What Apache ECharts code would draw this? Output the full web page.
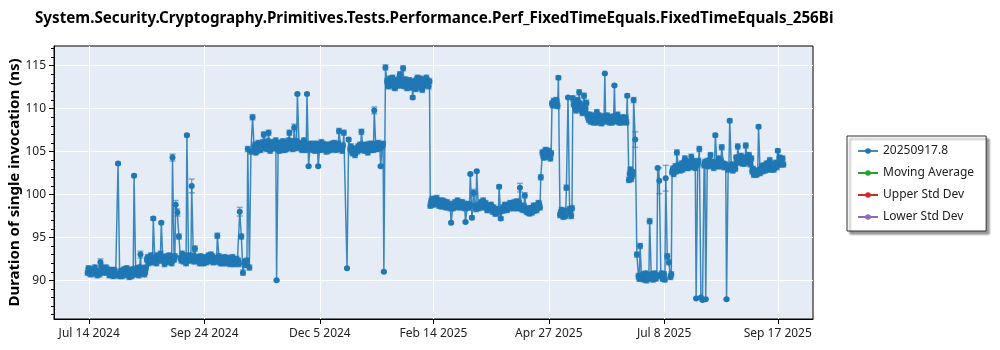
<!DOCTYPE html>
<html><head><meta charset="utf-8">
<script src="https://cdn.jsdelivr.net/npm/echarts@6/dist/echarts.min.js"></script>
<style>html,body{margin:0;padding:0;background:#fff}#c{width:1000px;height:350px}</style>
</head><body><div id="c"></div>
<script>
const chartTitle = 'System.Security.Cryptography.Primitives.Tests.Performance.Perf_FixedTimeEquals.FixedTimeEquals_256Bi';
const yAxisTitle = 'Duration of single invocation (ns)';
const legendNames = ['20250917.8', 'Moving Average', 'Upper Std Dev', 'Lower Std Dev'];
const xTickDates = ['2024-07-14', '2024-09-24', '2024-12-05', '2025-02-14', '2025-04-27', '2025-07-08', '2025-09-17'];
const yTickValues = [90, 95, 100, 105, 110, 115];
const yMinorTickValues = [86, 87, 88, 89, 91, 92, 93, 94, 96, 97, 98, 99, 101, 102, 103, 104, 106, 107, 108, 109, 111, 112, 113, 114, 116, 117];
const xRange = ['2024-06-22', '2025-10-09'];
const yRange = [85.5, 117.3];
const typicalError = 0.3;

// [date, duration (ns), optional error half-width]
const runsJulAug2024 = [
 ['2024-07-13',90.9],['2024-07-14',91.2],['2024-07-15',90.7],['2024-07-16',91.1],['2024-07-18',90.8],
 ['2024-07-19',90.6],['2024-07-20',91.0],['2024-07-21',92.1,0.4],['2024-07-22',91.4],['2024-07-24',91.0],
 ['2024-07-25',91.3],['2024-07-27',90.8],['2024-07-28',91.2],['2024-07-29',90.5],['2024-07-30',91.0],
 ['2024-07-31',90.7],['2024-08-01',103.6,0.15],['2024-08-02',90.5],['2024-08-03',91.1],['2024-08-04',90.6],
 ['2024-08-05',91.3],['2024-08-06',90.8],['2024-08-07',91.0],['2024-08-08',90.4],['2024-08-09',91.2],
 ['2024-08-10',90.7],['2024-08-11',102.2,0.15],['2024-08-12',91.0],['2024-08-13',91.4],['2024-08-14',90.6],
 ['2024-08-15',93.0,0.4],['2024-08-16',90.8],['2024-08-17',91.3],['2024-08-18',91.0]
];
const extraRunsJulAug2024 = [
 ['2024-07-13T12:00',91.4],['2024-07-14T12:00',90.8],['2024-07-15T12:00',91.3],['2024-07-17T00:00',90.9],['2024-07-17T12:00',91.5],
 ['2024-07-19T12:00',91.1],['2024-07-20T12:00',90.7],['2024-07-21T12:00',91.6],['2024-07-23T00:00',91.1],['2024-07-23T12:00',90.9],
 ['2024-07-24T12:00',91.5],['2024-07-26T00:00',91.2],['2024-07-26T12:00',90.6],['2024-07-28T12:00',90.9],['2024-07-29T12:00',91.2],
 ['2024-07-30T12:00',90.6],['2024-08-02T12:00',91.0],['2024-08-03T12:00',90.5],['2024-08-04T12:00',91.2],['2024-08-05T12:00',90.7],
 ['2024-08-06T12:00',91.4],['2024-08-07T12:00',90.6],['2024-08-08T12:00',91.0],['2024-08-09T12:00',90.5],['2024-08-10T12:00',91.3],
 ['2024-08-12T12:00',90.7],['2024-08-13T12:00',90.9],['2024-08-14T12:00',91.5],['2024-08-15T12:00',91.1],['2024-08-16T12:00',91.4],
 ['2024-08-17T12:00',90.7],['2024-08-18T12:00',91.5]
];
const runsAugOct2024 = [
 ['2024-08-19',92.4],['2024-08-20',92.0],['2024-08-22',92.6],['2024-08-23',97.2,0.2],['2024-08-24',92.2],
 ['2024-08-26',92.8],['2024-08-28',96.7,0.15],['2024-08-29',92.3],['2024-08-30',91.9],['2024-09-01',92.5],
 ['2024-09-02',92.9],['2024-09-04',104.3,0.4],['2024-09-05',92.4],['2024-09-06',98.8,0.5],['2024-09-07',97.9,0.4],
 ['2024-09-08',95.1,0.3],['2024-09-09',92.6],['2024-09-10',93.1],['2024-09-11',92.2],['2024-09-13',106.9,0.15],
 ['2024-09-14',92.5],['2024-09-16',101.0,0.8],['2024-09-17',92.8],['2024-09-18',93.7,0.3],['2024-09-19',92.4],
 ['2024-09-21',92.0],['2024-09-22',92.6],['2024-09-24',92.3],['2024-09-25',92.1],['2024-09-27',92.7],
 ['2024-09-28',93.0],['2024-09-30',92.2],['2024-10-01',92.5],['2024-10-02',95.2,0.3],['2024-10-03',92.8],
 ['2024-10-04',92.0],['2024-10-06',92.4],['2024-10-07',92.1],['2024-10-09',92.6],['2024-10-10',91.9],
 ['2024-10-12',92.3],['2024-10-13',92.0],['2024-10-14',92.5],['2024-10-16',98.0,0.5],['2024-10-17',95.1,0.3],
 ['2024-10-18',90.9,0.3],['2024-10-19',92.2],['2024-10-20',91.8],['2024-10-21',105.3],['2024-10-22',91.5]
];
const extraRunsAugOct2024 = [
 ['2024-08-19T12:00',92.7],['2024-08-21T00:00',92.3],['2024-08-21T12:00',92.9],['2024-08-22T12:00',92.1],['2024-08-24T12:00',92.6],
 ['2024-08-25T00:00',92.0],['2024-08-25T12:00',92.9],['2024-08-26T12:00',92.3],['2024-08-27T00:00',92.5],['2024-08-27T12:00',93.1],
 ['2024-08-29T12:00',92.7],['2024-08-30T12:00',92.4],['2024-08-31T00:00',92.1],['2024-08-31T12:00',92.8],['2024-09-01T12:00',92.2],
 ['2024-09-02T12:00',92.4],['2024-09-03T00:00',92.7],['2024-09-03T12:00',92.0],['2024-09-05T12:00',92.8],['2024-09-09T12:00',92.3],
 ['2024-09-10T12:00',92.5],['2024-09-11T12:00',92.9],['2024-09-12T00:00',92.4],['2024-09-12T12:00',92.0],['2024-09-14T12:00',92.9],
 ['2024-09-15T00:00',92.3],['2024-09-15T12:00',92.6],['2024-09-17T12:00',92.2],['2024-09-19T12:00',92.7],['2024-09-20T00:00',92.3],
 ['2024-09-20T12:00',92.5],['2024-09-21T12:00',92.8],['2024-09-22T12:00',92.2],['2024-09-23T00:00',92.6],['2024-09-23T12:00',92.0],
 ['2024-09-24T12:00',92.7],['2024-09-25T12:00',92.5],['2024-09-26T00:00',92.2],['2024-09-26T12:00',92.9],['2024-09-27T12:00',92.3],
 ['2024-09-28T12:00',92.5],['2024-09-29T00:00',92.8],['2024-09-29T12:00',92.1],['2024-09-30T12:00',92.6],['2024-10-01T12:00',92.2],
 ['2024-10-03T12:00',92.4],['2024-10-04T12:00',92.6],['2024-10-05T00:00',92.3],['2024-10-05T12:00',92.0],['2024-10-06T12:00',92.7],
 ['2024-10-07T12:00',92.4],['2024-10-08T00:00',92.0],['2024-10-08T12:00',92.6],['2024-10-09T12:00',92.2],['2024-10-10T12:00',92.4],
 ['2024-10-11T00:00',92.1],['2024-10-11T12:00',92.7],['2024-10-12T12:00',91.9],['2024-10-13T12:00',92.4],['2024-10-14T12:00',92.1],
 ['2024-10-15T00:00',92.3],['2024-10-15T12:00',91.9],['2024-10-19T12:00',91.9],['2024-10-20T12:00',92.3]
];
const runsOct2024Jan2025 = [
 ['2024-10-23',105.0],['2024-10-24',109.0,0.3],['2024-10-25',105.4],['2024-10-26',104.9],['2024-10-28',105.8],
 ['2024-10-29',105.2],['2024-10-31',107.0,0.3],['2024-11-01',105.5],['2024-11-03',107.2,0.3],['2024-11-04',105.1],
 ['2024-11-06',106.0],['2024-11-07',105.4],['2024-11-08',90.0,0.1],['2024-11-09',105.6],['2024-11-11',105.2],
 ['2024-11-12',106.2],['2024-11-14',105.3],['2024-11-16',107.2,0.3],['2024-11-17',105.8],['2024-11-19',107.8,0.4],
 ['2024-11-20',105.4],['2024-11-21',111.7,0.1],['2024-11-22',106.0],['2024-11-24',105.2],['2024-11-25',106.3],
 ['2024-11-27',111.7,0.1],['2024-11-28',103.3,0.1],['2024-11-29',105.9],['2024-12-01',105.5],['2024-12-02',105.1],
 ['2024-12-04',103.3,0.1],['2024-12-05',105.6],['2024-12-06',106.1],['2024-12-08',105.3],['2024-12-09',105.0],
 ['2024-12-11',105.7],['2024-12-12',105.4],['2024-12-14',106.0],['2024-12-15',105.2],['2024-12-17',107.4,0.3],
 ['2024-12-18',105.6],['2024-12-19',105.1],['2024-12-20',107.2,0.3],['2024-12-22',91.4,0.1],['2024-12-23',106.4,0.2],
 ['2024-12-25',105.0],['2024-12-27',104.6],['2024-12-28',105.4],['2024-12-30',105.8],['2024-12-31',107.3,0.3],
 ['2025-01-01',105.2],['2025-01-03',105.6],['2025-01-04',104.9],['2025-01-06',105.3],['2025-01-07',105.9],
 ['2025-01-08',109.8,0.4],['2025-01-09',105.4],['2025-01-11',105.8],['2025-01-12',103.3,0.1],['2025-01-13',105.6],
 ['2025-01-14',91.0,0.1]
];
const extraRunsOct2024Jan2025 = [
 ['2024-10-25T12:00',105.8],['2024-10-26T12:00',105.5],['2024-10-27T00:00',105.1],['2024-10-27T12:00',106.0],['2024-10-28T12:00',105.3],
 ['2024-10-29T12:00',105.9],['2024-10-30T00:00',105.4],['2024-10-30T12:00',106.1],['2024-11-01T12:00',105.9],['2024-11-02T00:00',105.3],
 ['2024-11-02T12:00',106.2],['2024-11-04T12:00',105.7],['2024-11-05T00:00',106.1],['2024-11-05T12:00',105.5],['2024-11-06T12:00',105.4],
 ['2024-11-07T12:00',106.3],['2024-11-09T12:00',105.1],['2024-11-10T00:00',106.0],['2024-11-10T12:00',105.6],['2024-11-11T12:00',106.1],
 ['2024-11-12T12:00',105.6],['2024-11-13T00:00',105.2],['2024-11-13T12:00',106.0],['2024-11-14T12:00',105.8],['2024-11-15T00:00',105.4],
 ['2024-11-15T12:00',106.3],['2024-11-16T12:00',105.5],['2024-11-17T12:00',106.2],['2024-11-18T00:00',105.3],['2024-11-18T12:00',105.9],
 ['2024-11-20T12:00',106.2],['2024-11-22T12:00',105.5],['2024-11-23T00:00',105.9],['2024-11-23T12:00',105.3],['2024-11-24T12:00',105.8],
 ['2024-11-25T12:00',105.5],['2024-11-26T00:00',105.9],['2024-11-26T12:00',105.2],['2024-11-29T12:00',105.4],['2024-11-30T00:00',105.8],
 ['2024-11-30T12:00',105.2],['2024-12-01T12:00',105.9],['2024-12-02T12:00',105.6],['2024-12-03T00:00',105.2],['2024-12-03T12:00',105.9],
 ['2024-12-05T12:00',105.2],['2024-12-06T12:00',105.5],['2024-12-07T00:00',105.9],['2024-12-07T12:00',105.3],['2024-12-08T12:00',105.8],
 ['2024-12-09T12:00',105.5],['2024-12-10T00:00',105.1],['2024-12-10T12:00',105.8],['2024-12-11T12:00',105.2],['2024-12-12T12:00',105.9],
 ['2024-12-13T00:00',105.3],['2024-12-13T12:00',105.7],['2024-12-14T12:00',105.4],['2024-12-15T12:00',105.8],['2024-12-16T00:00',105.3],
 ['2024-12-16T12:00',105.9],['2024-12-18T12:00',105.3],['2024-12-19T12:00',105.7],['2024-12-24T00:00',105.3],['2024-12-24T12:00',105.6],
 ['2024-12-25T12:00',104.8],['2024-12-26T00:00',105.2],['2024-12-26T12:00',104.9],['2024-12-27T12:00',105.3],['2024-12-28T12:00',105.0],
 ['2024-12-29T00:00',105.6],['2024-12-29T12:00',105.2],['2024-12-30T12:00',105.5],['2025-01-01T12:00',105.7],['2025-01-02T00:00',105.1],
 ['2025-01-02T12:00',105.8],['2025-01-03T12:00',105.2],['2025-01-04T12:00',105.5],['2025-01-05T00:00',105.9],['2025-01-05T12:00',105.2],
 ['2025-01-06T12:00',105.7],['2025-01-07T12:00',105.2],['2025-01-09T12:00',105.8],['2025-01-10T00:00',105.3],['2025-01-10T12:00',106.0],
 ['2025-01-11T12:00',105.4],['2025-01-13T12:00',105.9]
];
const runsJanFeb2025 = [
 ['2025-01-15',114.8,0.3],['2025-01-16',113.2],['2025-01-17',112.6],['2025-01-18',113.5],['2025-01-19',112.8],
 ['2025-01-20',113.1],['2025-01-21',112.4],['2025-01-22',113.3],['2025-01-23',112.9],['2025-01-24',114.0],
 ['2025-01-25',112.7],['2025-01-26',114.7,0.3],['2025-01-27',112.6],['2025-01-28',113.0],['2025-01-29',112.5],
 ['2025-01-30',113.3],['2025-01-31',112.5],['2025-02-01',111.3,0.2],['2025-02-02',113.2],['2025-02-03',112.3],
 ['2025-02-04',113.6],['2025-02-05',112.8],['2025-02-06',113.1],['2025-02-07',112.2],['2025-02-08',113.4],
 ['2025-02-09',112.9],['2025-02-10',113.3],['2025-02-11',112.6]
];
const extraRunsJanFeb2025 = [
 ['2025-01-16T12:00',112.7],['2025-01-17T12:00',113.4],['2025-01-18T12:00',112.9],['2025-01-19T12:00',113.6],['2025-01-20T12:00',112.5],
 ['2025-01-21T12:00',113.2],['2025-01-22T12:00',112.7],['2025-01-23T12:00',113.5],['2025-01-24T12:00',112.8],['2025-01-25T12:00',113.3],
 ['2025-01-26T12:00',112.9],['2025-01-27T12:00',113.4],['2025-01-28T12:00',112.4],['2025-01-29T12:00',113.1],['2025-01-30T12:00',112.6],
 ['2025-01-31T12:00',113.0],['2025-02-01T12:00',112.5],['2025-02-02T12:00',112.6],['2025-02-03T12:00',113.4],['2025-02-04T12:00',112.7],
 ['2025-02-05T12:00',113.5],['2025-02-06T12:00',112.4],['2025-02-07T12:00',113.2],['2025-02-08T12:00',112.7],['2025-02-09T12:00',113.6],
 ['2025-02-10T12:00',112.8],['2025-02-11T12:00',113.2]
];
const runsFebApr2025 = [
 ['2025-02-12',98.7],['2025-02-13',99.4],['2025-02-15',98.9],['2025-02-16',99.6],['2025-02-18',99.2],
 ['2025-02-19',98.6],['2025-02-21',99.0],['2025-02-22',98.5],['2025-02-24',98.8],['2025-02-25',96.7,0.1],
 ['2025-02-26',98.4],['2025-02-28',98.9],['2025-03-01',99.3],['2025-03-03',98.6],['2025-03-04',99.1],
 ['2025-03-06',96.8,0.1],['2025-03-07',98.5],['2025-03-09',102.4,0.1],['2025-03-10',97.3,0.2],['2025-03-11',100.2,0.4],
 ['2025-03-12',98.7],['2025-03-13',102.7,0.1],['2025-03-14',98.4],['2025-03-16',98.9],['2025-03-17',99.3],
 ['2025-03-19',98.6],['2025-03-20',98.2],['2025-03-22',98.8],['2025-03-23',98.0],['2025-03-25',97.8],
 ['2025-03-26',98.3],['2025-03-27',100.9,0.2],['2025-03-28',97.2,0.2],['2025-03-29',98.1],['2025-03-31',98.6],
 ['2025-04-01',98.2],['2025-04-03',99.0],['2025-04-04',98.5],['2025-04-06',98.8],['2025-04-07',99.2],
 ['2025-04-09',100.8,0.5],['2025-04-10',98.3],['2025-04-12',99.9,0.3],['2025-04-13',98.0],['2025-04-15',97.8],
 ['2025-04-16',98.4],['2025-04-18',98.1],['2025-04-19',98.7],['2025-04-21',98.9],['2025-04-22',102.0,0.3]
];
const extraRunsFebApr2025 = [
 ['2025-02-12T12:00',99.2],['2025-02-13T12:00',98.8],['2025-02-14T00:00',99.5],['2025-02-14T12:00',99.0],['2025-02-15T12:00',99.4],
 ['2025-02-16T12:00',98.9],['2025-02-17T00:00',99.3],['2025-02-17T12:00',98.7],['2025-02-18T12:00',98.9],['2025-02-19T12:00',99.3],
 ['2025-02-20T00:00',98.7],['2025-02-20T12:00',99.2],['2025-02-21T12:00',98.6],['2025-02-22T12:00',99.1],['2025-02-23T00:00',98.6],
 ['2025-02-23T12:00',98.9],['2025-02-24T12:00',98.4],['2025-02-26T12:00',98.9],['2025-02-27T00:00',98.5],['2025-02-27T12:00',99.1],
 ['2025-02-28T12:00',98.6],['2025-03-01T12:00',98.8],['2025-03-02T00:00',99.1],['2025-03-02T12:00',98.5],['2025-03-03T12:00',99.0],
 ['2025-03-04T12:00',98.6],['2025-03-05T00:00',98.9],['2025-03-05T12:00',98.4],['2025-03-07T12:00',98.9],['2025-03-08T00:00',98.5],
 ['2025-03-08T12:00',98.8],['2025-03-12T12:00',98.3],['2025-03-14T12:00',98.8],['2025-03-15T00:00',98.5],['2025-03-15T12:00',99.1],
 ['2025-03-16T12:00',98.6],['2025-03-17T12:00',98.9],['2025-03-18T00:00',98.5],['2025-03-18T12:00',99.0],['2025-03-19T12:00',98.2],
 ['2025-03-20T12:00',98.7],['2025-03-21T00:00',98.3],['2025-03-21T12:00',98.6],['2025-03-22T12:00',98.2],['2025-03-23T12:00',98.5],
 ['2025-03-24T00:00',98.1],['2025-03-24T12:00',97.8],['2025-03-25T12:00',98.2],['2025-03-26T12:00',97.9],['2025-03-29T12:00',98.5],
 ['2025-03-30T00:00',98.2],['2025-03-30T12:00',98.8],['2025-03-31T12:00',98.3],['2025-04-01T12:00',98.7],['2025-04-02T00:00',98.4],
 ['2025-04-02T12:00',98.9],['2025-04-03T12:00',98.6],['2025-04-04T12:00',98.9],['2025-04-05T00:00',98.4],['2025-04-05T12:00',99.1],
 ['2025-04-06T12:00',98.5],['2025-04-07T12:00',98.7],['2025-04-08T00:00',98.4],['2025-04-08T12:00',99.0],['2025-04-10T12:00',98.7],
 ['2025-04-11T00:00',98.2],['2025-04-11T12:00',98.6],['2025-04-13T12:00',98.3],['2025-04-14T00:00',97.9],['2025-04-14T12:00',98.4],
 ['2025-04-15T12:00',98.1],['2025-04-16T12:00',97.9],['2025-04-17T00:00',98.3],['2025-04-17T12:00',98.7],['2025-04-18T12:00',98.5],
 ['2025-04-19T12:00',98.2],['2025-04-20T00:00',98.6],['2025-04-20T12:00',99.0],['2025-04-21T12:00',98.5]
];
const runsAprJun2025 = [
 ['2025-04-23',104.9],['2025-04-24',104.3],['2025-04-25',105.2],['2025-04-26',104.6],['2025-04-27',105.0],
 ['2025-04-28',104.2],['2025-04-29',110.6],['2025-04-30',110.9],['2025-05-01',110.4],['2025-05-02',110.8],
 ['2025-05-03',113.6,0.2],['2025-05-04',97.6],['2025-05-05',98.2],['2025-05-06',97.4],['2025-05-07',98.0],
 ['2025-05-08',100.8,0.3],['2025-05-09',111.3,0.1],['2025-05-10',98.3],['2025-05-11',97.5],['2025-05-12',111.2],
 ['2025-05-13',110.8],['2025-05-14',109.8],['2025-05-15',111.0],['2025-05-16',111.9,0.3],['2025-05-17',110.3],
 ['2025-05-18',109.5],['2025-05-19',111.5],['2025-05-20',110.0],['2025-05-21',109.3],['2025-05-22',108.7],
 ['2025-05-23',108.5],['2025-05-24',109.2],['2025-05-25',108.4],['2025-05-26',108.9],['2025-05-27',109.6],
 ['2025-05-28',108.5],['2025-05-29',108.8],['2025-05-30',108.3],['2025-05-31',109.1],['2025-06-01',114.1,0.1],
 ['2025-06-02',108.6],['2025-06-03',109.0],['2025-06-04',108.4],['2025-06-05',108.9],['2025-06-06',108.5],
 ['2025-06-07',112.7,0.1],['2025-06-08',108.7],['2025-06-09',109.3],['2025-06-10',108.4],['2025-06-11',108.8],
 ['2025-06-12',108.6],['2025-06-13',108.5],['2025-06-14',108.9],['2025-06-15',111.5,0.2],['2025-06-16',101.7],
 ['2025-06-17',102.9],['2025-06-18',102.2],['2025-06-19',111.0,0.3],['2025-06-20',106.4,0.9]
];
const extraRunsAprJun2025 = [
 ['2025-04-23T12:00',104.5],['2025-04-24T12:00',105.0],['2025-04-25T12:00',104.4],['2025-04-26T12:00',105.1],['2025-04-27T12:00',104.5],
 ['2025-04-28T12:00',104.8],['2025-04-29T12:00',110.4],['2025-04-30T12:00',110.7],['2025-05-01T12:00',111.0],['2025-05-02T12:00',110.3],
 ['2025-05-04T12:00',97.9],['2025-05-05T12:00',97.6],['2025-05-06T12:00',98.1],['2025-05-07T12:00',97.5],['2025-05-10T12:00',97.9],
 ['2025-05-11T12:00',98.4],['2025-05-12T12:00',110.5],['2025-05-13T12:00',110.2],['2025-05-14T12:00',110.9],['2025-05-15T12:00',110.1],
 ['2025-05-16T12:00',110.6],['2025-05-17T12:00',109.8],['2025-05-18T12:00',110.4],['2025-05-19T12:00',109.9],['2025-05-20T12:00',110.7],
 ['2025-05-21T12:00',109.0],['2025-05-22T12:00',109.3],['2025-05-23T12:00',108.9],['2025-05-24T12:00',108.5],['2025-05-25T12:00',109.1],
 ['2025-05-26T12:00',108.4],['2025-05-27T12:00',108.8],['2025-05-28T12:00',109.2],['2025-05-29T12:00',108.4],['2025-05-30T12:00',109.0],
 ['2025-05-31T12:00',108.5],['2025-06-01T12:00',108.9],['2025-06-02T12:00',109.2],['2025-06-03T12:00',108.5],['2025-06-04T12:00',109.0],
 ['2025-06-05T12:00',108.4],['2025-06-06T12:00',109.1],['2025-06-07T12:00',108.6],['2025-06-08T12:00',109.1],['2025-06-09T12:00',108.5],
 ['2025-06-10T12:00',108.9],['2025-06-11T12:00',108.4],['2025-06-12T12:00',109.0],['2025-06-13T12:00',108.7],['2025-06-14T12:00',108.4],
 ['2025-06-16T12:00',102.4],['2025-06-17T12:00',101.8],['2025-06-18T12:00',102.6]
];
const runsJunJul2025 = [
 ['2025-06-21',93.0,0.3],['2025-06-22',90.5],['2025-06-23',94.0,0.3],['2025-06-24',90.2],['2025-06-25',90.7],
 ['2025-06-26',90.3],['2025-06-27',90.0],['2025-06-28',90.6],['2025-06-29',96.9,0.3],['2025-06-30',90.4],
 ['2025-07-01',90.1],['2025-07-02',90.8],['2025-07-03',90.3],['2025-07-04',103.1,0.1],['2025-07-05',101.6,1.5],
 ['2025-07-06',90.5],['2025-07-07',90.2],['2025-07-08',90.7],['2025-07-09',101.9,1.5],['2025-07-10',92.8,0.3],
 ['2025-07-11',92.1,0.3],['2025-07-12',90.4]
];
const extraRunsJunJul2025 = [
 ['2025-06-22T12:00',90.2],['2025-06-24T12:00',90.6],['2025-06-25T12:00',90.1],['2025-06-26T12:00',90.8],['2025-06-27T12:00',90.5],
 ['2025-06-28T12:00',90.2],['2025-06-30T12:00',90.7],['2025-07-01T12:00',90.4],['2025-07-02T12:00',90.2],['2025-07-03T12:00',90.6],
 ['2025-07-06T12:00',90.8],['2025-07-07T12:00',90.5],['2025-07-08T12:00',90.1],['2025-07-12T12:00',90.7]
];
const runsJulSep2025 = [
 ['2025-07-13',102.6],['2025-07-14',102.4],['2025-07-15',103.3],['2025-07-16',104.9,0.3],['2025-07-17',103.0],
 ['2025-07-18',102.8],['2025-07-19',103.6],['2025-07-20',103.2],['2025-07-21',104.2],['2025-07-22',103.4],
 ['2025-07-23',103.1],['2025-07-24',103.8],['2025-07-25',104.4],['2025-07-26',103.3],['2025-07-27',103.6],
 ['2025-07-28',87.9,0.1],['2025-07-29',103.5],['2025-07-30',105.3,0.3],['2025-07-31',88.0,0.1],['2025-08-01',87.7,0.1],
 ['2025-08-02',103.4],['2025-08-03',87.8,0.1],['2025-08-04',103.9],['2025-08-05',103.5],['2025-08-06',104.6],
 ['2025-08-07',103.4],['2025-08-08',103.1],['2025-08-09',106.9,0.2],['2025-08-10',103.7],['2025-08-11',104.2],
 ['2025-08-12',103.3],['2025-08-13',105.5,0.3],['2025-08-14',103.6],['2025-08-15',103.2],['2025-08-16',87.8,0.1],
 ['2025-08-17',102.9],['2025-08-18',108.6,0.2],['2025-08-19',103.1],['2025-08-20',102.8],['2025-08-21',103.4],
 ['2025-08-22',104.3],['2025-08-23',105.6,0.3],['2025-08-24',103.8],['2025-08-25',104.5],['2025-08-26',103.6],
 ['2025-08-27',104.1],['2025-08-28',105.7,0.3],['2025-08-29',103.9],['2025-08-30',104.6],['2025-08-31',103.5],
 ['2025-09-01',102.7],['2025-09-02',102.3],['2025-09-03',102.6],['2025-09-04',102.4],['2025-09-05',107.9,0.2],
 ['2025-09-06',102.5],['2025-09-07',103.3],['2025-09-08',103.0],['2025-09-09',102.8],['2025-09-10',103.6],
 ['2025-09-11',103.2],['2025-09-12',104.0],['2025-09-13',102.9],['2025-09-14',103.4],['2025-09-15',103.1],
 ['2025-09-16',103.7],['2025-09-17',105.1,0.2],['2025-09-18',104.3],['2025-09-19',103.6],['2025-09-20',104.2]
];
const extraRunsJulSep2025 = [
 ['2025-07-13T12:00',103.0],['2025-07-14T12:00',102.8],['2025-07-15T12:00',102.7],['2025-07-17T12:00',103.4],['2025-07-18T12:00',103.3],
 ['2025-07-19T12:00',102.9],['2025-07-20T12:00',103.7],['2025-07-21T12:00',103.1],['2025-07-22T12:00',103.8],['2025-07-23T12:00',103.5],
 ['2025-07-24T12:00',103.2],['2025-07-25T12:00',103.5],['2025-07-26T12:00',103.9],['2025-07-27T12:00',103.1],['2025-07-29T12:00',103.9],
 ['2025-08-02T12:00',103.8],['2025-08-04T12:00',103.3],['2025-08-05T12:00',104.0],['2025-08-06T12:00',103.5],['2025-08-07T12:00',103.8],
 ['2025-08-08T12:00',103.5],['2025-08-10T12:00',103.3],['2025-08-11T12:00',103.6],['2025-08-12T12:00',103.9],['2025-08-14T12:00',103.2],
 ['2025-08-15T12:00',103.5],['2025-08-17T12:00',103.3],['2025-08-19T12:00',103.5],['2025-08-20T12:00',103.2],['2025-08-21T12:00',103.0],
 ['2025-08-22T12:00',103.7],['2025-08-24T12:00',104.4],['2025-08-25T12:00',103.8],['2025-08-26T12:00',104.3],['2025-08-27T12:00',103.6],
 ['2025-08-29T12:00',104.4],['2025-08-30T12:00',103.8],['2025-08-31T12:00',104.2],['2025-09-01T12:00',103.0],['2025-09-02T12:00',102.6],
 ['2025-09-03T12:00',102.3],['2025-09-04T12:00',102.8],['2025-09-06T12:00',102.9],['2025-09-07T12:00',102.7],['2025-09-08T12:00',103.4],
 ['2025-09-09T12:00',103.2],['2025-09-10T12:00',102.9],['2025-09-11T12:00',103.5],['2025-09-12T12:00',103.1],['2025-09-13T12:00',103.5],
 ['2025-09-14T12:00',102.9],['2025-09-15T12:00',103.6],['2025-09-16T12:00',103.2],['2025-09-18T12:00',103.5],['2025-09-19T12:00',104.1],
 ['2025-09-20T12:00',103.5]
];
const movingAverage = [];
const upperStdDev = [];
const lowerStdDev = [];

const seriesColors = ['#1f77b4', '#2ca02c', '#d62728', '#9467bd'];
const monthNames = ['Jan','Feb','Mar','Apr','May','Jun','Jul','Aug','Sep','Oct','Nov','Dec'];
const FONT = '"Noto Sans", "Open Sans", sans-serif';

const ts = s => new Date(s.length === 10 ? s + 'T00:00:00Z' : s + ':00Z').getTime();
const allRuns = [].concat(
  runsJulAug2024, extraRunsJulAug2024, runsAugOct2024, extraRunsAugOct2024,
  runsOct2024Jan2025, extraRunsOct2024Jan2025, runsJanFeb2025, extraRunsJanFeb2025,
  runsFebApr2025, extraRunsFebApr2025, runsAprJun2025, extraRunsAprJun2025,
  runsJunJul2025, extraRunsJunJul2025, runsJulSep2025, extraRunsJulSep2025
).map(r => ({t: ts(r[0]), v: r[1], e: r.length > 2 ? r[2] : typicalError}))
 .sort((a, b) => a.t - b.t);
const lineData = allRuns.map(r => [r.t, r.v]);
const errData = allRuns.map(r => [r.t, r.v - r.e, r.v + r.e]);
const fmtDate = v => { const d = new Date(v); return monthNames[d.getUTCMonth()] + ' ' + d.getUTCDate() + ' ' + d.getUTCFullYear(); };

const chart = echarts.init(document.getElementById('c'), null, {renderer: 'canvas'});
chart.setOption({
  animation: false,
  backgroundColor: '#fff',
  title: {
    text: chartTitle, left: 35, top: 11, padding: 0,
    textStyle: {fontFamily: FONT, fontSize: 15.2, fontWeight: 'bold', color: '#000'}
  },
  legend: {
    orient: 'vertical', left: 847, top: 136,
    data: legendNames,
    backgroundColor: '#fff', borderColor: '#333', borderWidth: 1,
    padding: [8, 12, 7, 10], itemGap: 8, itemWidth: 20, itemHeight: 7,
    shadowColor: 'rgba(0,0,0,0.4)', shadowOffsetX: 3, shadowOffsetY: 3, shadowBlur: 2,
    textStyle: {fontFamily: FONT, fontSize: 12, color: '#222', lineHeight: 14}
  },
  grid: {left: 54, right: 187, top: 46, bottom: 31, show: true, backgroundColor: '#e5ecf6', borderColor: '#000', borderWidth: 1, containLabel: false, outerBoundsMode: 'none'},
  xAxis: {
    type: 'value', min: ts(xRange[0]), max: ts(xRange[1]),
    axisLine: {show: true, onZero: false, lineStyle: {color: '#000'}},
    axisTick: {show: true, length: 5, customValues: xTickDates.map(ts), lineStyle: {color: '#000'}},
    axisLabel: {customValues: xTickDates.map(ts), formatter: fmtDate, fontFamily: FONT, fontSize: 12, color: '#222', margin: 9},
    splitLine: {show: true, lineStyle: {color: '#fff', width: 1}}
  },
  yAxis: [{
    type: 'value', min: yRange[0], max: yRange[1],
    name: yAxisTitle, nameLocation: 'middle', nameGap: 32, nameMoveOverlap: false,
    nameTextStyle: {fontFamily: FONT, fontSize: 15, fontWeight: 'bold', color: '#000'},
    axisLine: {show: true, onZero: false, lineStyle: {color: '#000'}},
    axisTick: {show: true, length: 5, customValues: yTickValues, lineStyle: {color: '#000'}},
    axisLabel: {customValues: yTickValues, fontFamily: FONT, fontSize: 12, color: '#222', margin: 8},
    splitLine: {show: true, lineStyle: {color: '#fff', width: 1}}
  }, {
    type: 'value', min: yRange[0], max: yRange[1], position: 'left', offset: 0,
    axisLine: {show: false},
    axisTick: {show: true, length: 3, customValues: yMinorTickValues, lineStyle: {color: '#000'}},
    axisLabel: {show: false},
    splitLine: {show: false}
  }],
  series: [{
    type: 'custom', name: 'errorbars', silent: true, z: 1,
    renderItem: (params, api) => {
      const x = api.value(0);
      const p1 = api.coord([x, api.value(1)]);
      const p2 = api.coord([x, api.value(2)]);
      const w = 3;
      const st = {stroke: 'rgba(31,119,180,0.55)', lineWidth: 1.5};
      return {type: 'group', children: [
        {type: 'line', shape: {x1: p1[0], y1: p1[1], x2: p2[0], y2: p2[1]}, style: st},
        {type: 'line', shape: {x1: p1[0] - w, y1: p1[1], x2: p1[0] + w, y2: p1[1]}, style: st},
        {type: 'line', shape: {x1: p2[0] - w, y1: p2[1], x2: p2[0] + w, y2: p2[1]}, style: st}
      ]};
    },
    encode: {x: 0, y: [1, 2]},
    data: errData
  }, {
    type: 'line', name: legendNames[0], data: lineData, z: 2,
    symbol: 'circle', symbolSize: 6, showAllSymbol: true,
    itemStyle: {color: seriesColors[0]},
    lineStyle: {color: seriesColors[0], width: 1.5, opacity: 0.85}
  }, {
    type: 'line', name: legendNames[1], data: movingAverage, symbol: 'circle', symbolSize: 6,
    itemStyle: {color: seriesColors[1]}, lineStyle: {color: seriesColors[1], width: 1.5}
  }, {
    type: 'line', name: legendNames[2], data: upperStdDev, symbol: 'circle', symbolSize: 6,
    itemStyle: {color: seriesColors[2]}, lineStyle: {color: seriesColors[2], width: 1.5}
  }, {
    type: 'line', name: legendNames[3], data: lowerStdDev, symbol: 'circle', symbolSize: 6,
    itemStyle: {color: seriesColors[3]}, lineStyle: {color: seriesColors[3], width: 1.5}
  }]
});
</script></body></html>
